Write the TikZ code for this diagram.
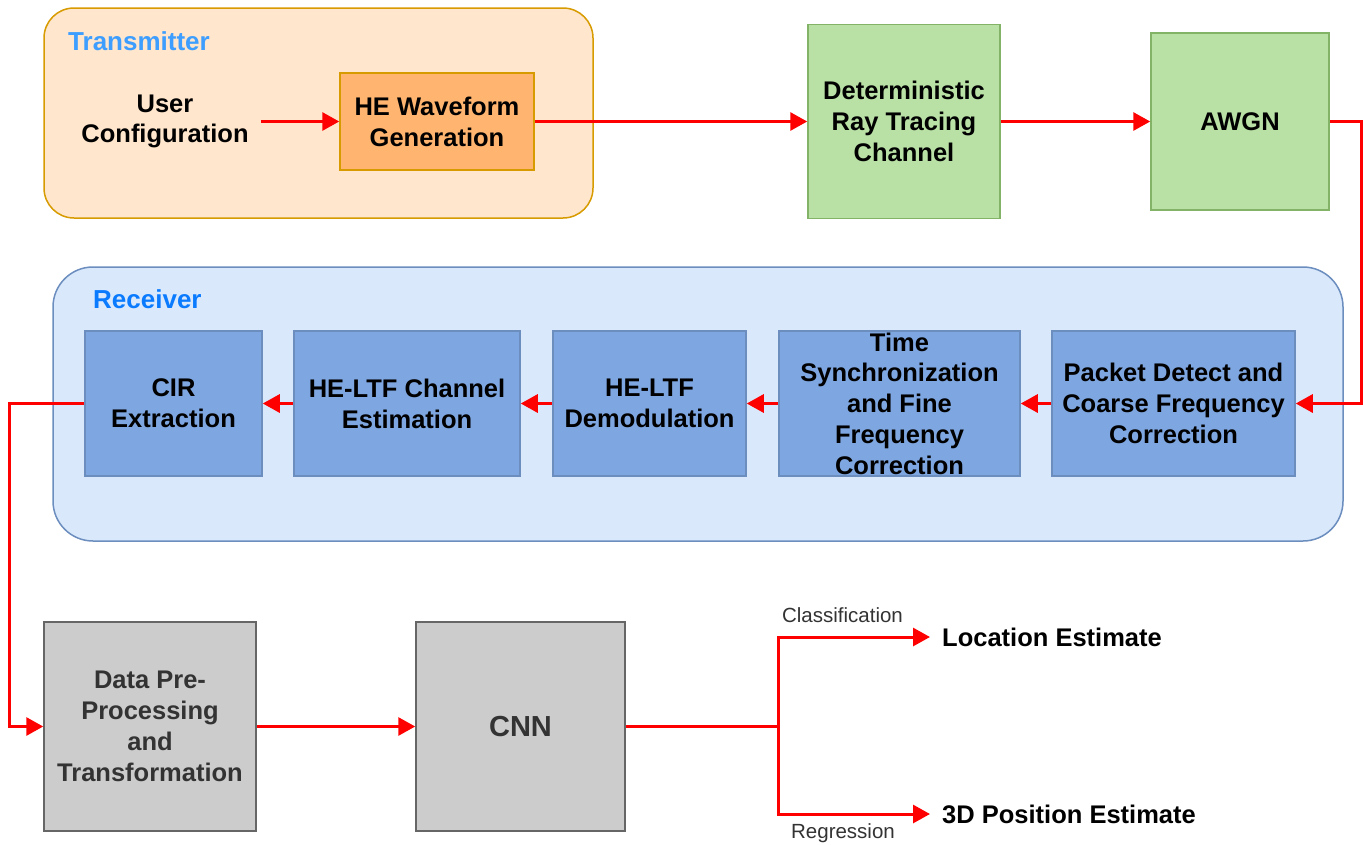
\documentclass[tikz,border=0pt]{standalone}
\usepackage{fontspec}
\setmainfont{Liberation Sans}
\usetikzlibrary{arrows.meta}
\definecolor{txfill}{HTML}{FFE6CC}
\definecolor{orstroke}{HTML}{D79B00}
\definecolor{hefill}{HTML}{FFB570}
\definecolor{grfill}{HTML}{B9E0A5}
\definecolor{grstroke}{HTML}{82B366}
\definecolor{rxfill}{HTML}{DAE8FC}
\definecolor{blstroke}{HTML}{6C8EBF}
\definecolor{blfill}{HTML}{7EA6E0}
\definecolor{gyfill}{HTML}{CCCCCC}
\definecolor{gystroke}{HTML}{666666}
\definecolor{gytext}{HTML}{333333}
\definecolor{txlabel}{HTML}{3D9EFF}
\definecolor{rxlabel}{HTML}{0A7BFF}
\definecolor{arrred}{HTML}{FF0000}
\tikzset{
  bigfont/.style={font=\bfseries\fontsize{25.5}{30.8}\selectfont},
  blk/.style={rectangle, draw, line width=1.5pt, align=center, inner sep=0pt, bigfont},
  orbox/.style={blk, fill=hefill, draw=orstroke},
  grbox/.style={blk, fill=grfill, draw=grstroke},
  blbox/.style={blk, fill=blfill, draw=blstroke, minimum height=145pt},
  gybox/.style={blk, fill=gyfill, draw=gystroke, text=gytext, minimum height=209pt, minimum width=209pt},
  container/.style={rectangle, line width=1.5pt, inner sep=0pt},
  grouplabel/.style={font=\bfseries\fontsize{26}{31}\selectfont, anchor=west, inner sep=0pt},
  plain/.style={align=center, inner sep=0pt, bigfont},
  smalllabel/.style={font=\fontsize{20.5}{24}\selectfont, text=gytext, inner sep=0pt},
  arr/.style={draw=arrred, line width=3pt, -{Triangle[length=17pt,width=18pt]}},
  line/.style={draw=arrred, line width=3pt}
}
\begin{document}
\begin{tikzpicture}[x=1pt,y=-1pt]
\useasboundingbox (0,0) rectangle (1363,844);
% containers
\node[container, fill=txfill, draw=orstroke, rounded corners=30pt, minimum width=549pt, minimum height=210pt] (tx) at (318.5,113) {};
\node[grouplabel, text=txlabel] (txl) at (68,41) {Transmitter};
\node[container, fill=rxfill, draw=blstroke, rounded corners=40pt, minimum width=1290pt, minimum height=274pt] (rx) at (698,404) {};
\node[grouplabel, text=rxlabel] (rxl) at (93,299) {Receiver};
% transmitter row
\node[plain] (uc) at (165,121.5) {User\\Configuration};
\node[orbox, minimum width=194pt, minimum height=97pt] (he) at (437,121.5) {HE Waveform\\Generation};
\node[grbox, minimum width=192pt, minimum height=194pt] (det) at (904,121.5) {Deterministic\\Ray Tracing\\Channel};
\node[grbox, minimum width=178pt, minimum height=177pt] (awgn) at (1240,121.5) {AWGN};
% receiver row
\node[blbox, minimum width=177pt] (cir) at (173.5,403.5) {CIR\\Extraction};
\node[blbox, minimum width=226pt] (hce) at (407,403.5) {HE-LTF Channel\\Estimation};
\node[blbox, minimum width=193pt] (hdm) at (649.5,403.5) {HE-LTF\\Demodulation};
\node[blbox, minimum width=241pt] (ts) at (899.5,403.5) {Time\\Synchronization\\and Fine\\Frequency\\Correction};
\node[blbox, minimum width=243pt] (pd) at (1173.5,403.5) {Packet Detect and\\Coarse Frequency\\Correction};
% bottom row
\node[gybox, minimum width=212pt] (dp) at (150,726.5) {Data Pre-\\Processing\\and\\Transformation};
\node[gybox, font=\bfseries\fontsize{29}{35}\selectfont] (cnn) at (520.5,726.5) {CNN};
\node[plain, anchor=west, inner xsep=12pt] (loc) at (930,637) {Location Estimate};
\node[plain, anchor=west, inner xsep=12pt] (pos) at (930,814) {3D Position Estimate};
\node[smalllabel] (cls) at (842.5,615) {Classification};
\node[smalllabel] (reg) at (843,833) {Regression};
% connectors
\draw[arr] (uc.east) ++(12,0) -- (he.west);
\draw[arr] (he.east) -- (det.west);
\draw[arr] (det.east) -- (awgn.west);
\draw[arr] (awgn.east) -- ++(32,0) |- (pd.east);
\draw[arr] (pd.west) -- (ts.east);
\draw[arr] (ts.west) -- (hdm.east);
\draw[arr] (hdm.west) -- (hce.east);
\draw[arr] (hce.west) -- (cir.east);
\draw[arr] (cir.west) -- ++(-75,0) |- (dp.west);
\draw[arr] (dp.east) -- (cnn.west);
\coordinate (split) at (778,726.5);
\draw[line] (cnn.east) -- (split);
\draw[arr] (split) |- (loc.west);
\draw[arr] (split) |- (pos.west);
\end{tikzpicture}
\end{document}
